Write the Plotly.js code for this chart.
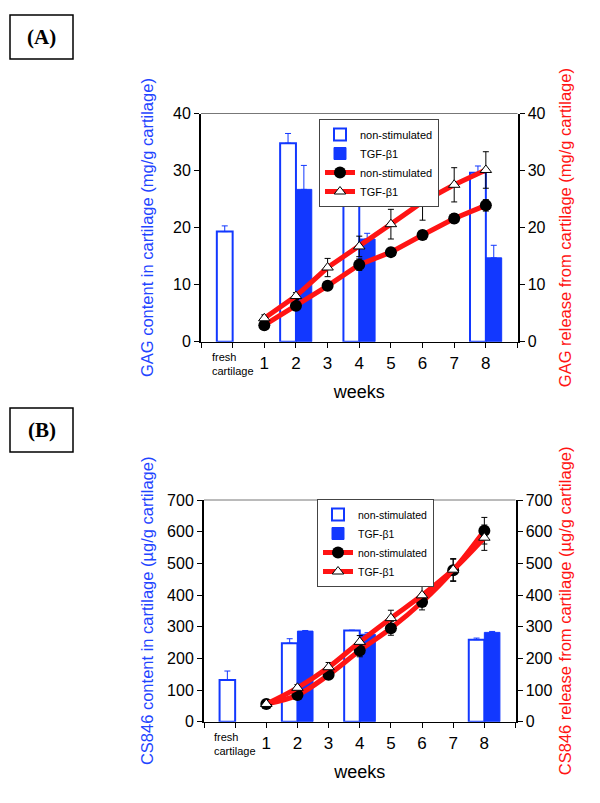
<!DOCTYPE html>
<html>
<head>
<meta charset="utf-8">
<title>GAG and CS846</title>
<script src="https://cdn.plot.ly/plotly-3.0.1.min.js"></script>
<style>
  body { margin: 0; background: #fff; }
  #chart { width: 600px; height: 803px; }
</style>
</head>
<body>
<div id="chart"></div>
<script>
// weeks in culture, x = 0 is the fresh cartilage column
const weeks = [1, 2, 3, 4, 5, 6, 7, 8];
const nonBarX = [0, 2, 4, 8];
const tgfBarX = [2, 4, 8];
const tickVals = [-1, 0, 1, 2, 3, 4, 5, 6, 7, 8, 9];
const tickText = ['', '', '1', '2', '3', '4', '5', '6', '7', '8', ''];

// (A) GAG
const gagContentNon = [19.3, 34.8, 23.8, 29.6];
const gagContentNonErr = [1.0, 1.7, 2.4, 1.2];
const gagContentTgf = [26.7, 18.0, 14.7];
const gagContentTgfErr = [4.2, 1.0, 2.2];
const gagReleaseNon = [2.9, 6.3, 9.8, 13.5, 15.7, 18.7, 21.6, 23.9];
const gagReleaseNonErr = [0.4, 0.5, 0.6, 1.0, 0.6, 0.6, 0.8, 1.0];
const gagReleaseTgf = [4.1, 8.0, 13.0, 16.7, 20.6, 24.5, 27.5, 30.1];
const gagReleaseTgfErr = [0.6, 0.6, 1.6, 1.8, 2.6, 3.2, 3.0, 3.2];

// (B) CS846
const csContentNon = [132, 248, 288, 259];
const csContentNonErr = [28, 14, 1, 5];
const csContentTgf = [286, 276, 282];
const csContentTgfErr = [2, 5, 3];
const csReleaseNon = [56, 84, 148, 225, 295, 378, 478, 603];
const csReleaseNonErr = [5, 8, 12, 20, 22, 25, 35, 42];
const csReleaseTgf = [56, 107, 172, 252, 327, 399, 480, 581];
const csReleaseTgfErr = [5, 10, 15, 20, 25, 30, 35, 40];

const BLUE = '#1238ff';
const TXTBLUE = '#1f45ff';
const RED = '#ff1414';
const FONT = 'Liberation Sans, Arial, sans-serif';

function barPair(xa, ya, leg, non, nonErr, tgf, tgfErr) {
  return [
    {
      type: 'bar', x: nonBarX, y: non, xaxis: xa, yaxis: ya, legend: leg,
      name: 'non-stimulated', width: 0.5, offset: -0.5,
      marker: {color: '#fff', line: {color: BLUE, width: 2}},
      error_y: {type: 'data', symmetric: false, array: nonErr, arrayminus: nonErr.map(() => 0),
                color: BLUE, thickness: 1, width: 3}
    },
    {
      type: 'bar', x: tgfBarX, y: tgf, xaxis: xa, yaxis: ya, legend: leg,
      name: 'TGF-β1', width: 0.5, offset: 0,
      marker: {color: BLUE, line: {color: BLUE, width: 1}},
      error_y: {type: 'data', symmetric: false, array: tgfErr, arrayminus: tgfErr.map(() => 0),
                color: BLUE, thickness: 1, width: 3}
    }
  ];
}

function linePair(xa, ya, leg, shape, non, nonErr, tgf, tgfErr) {
  return [
    {
      type: 'scatter', mode: 'lines+markers', x: weeks, y: non, xaxis: xa, yaxis: ya, legend: leg,
      name: 'non-stimulated',
      line: {color: RED, width: 5, shape: shape},
      marker: {symbol: 'circle', size: 12, color: '#000'},
      error_y: {type: 'data', array: nonErr, color: '#000', thickness: 1, width: 3}
    },
    {
      type: 'scatter', mode: 'lines+markers', x: weeks, y: tgf, xaxis: xa, yaxis: ya, legend: leg,
      name: 'TGF-β1',
      line: {color: RED, width: 5, shape: shape},
      marker: {symbol: 'triangle-up', size: 10, color: '#fff', line: {color: '#000', width: 1}},
      error_y: {type: 'data', array: tgfErr, color: '#000', thickness: 1, width: 3}
    }
  ];
}

const data = [].concat(
  barPair('x', 'y', 'legend', gagContentNon, gagContentNonErr, gagContentTgf, gagContentTgfErr),
  linePair('x', 'y2', 'legend', 'linear', gagReleaseNon, gagReleaseNonErr, gagReleaseTgf, gagReleaseTgfErr),
  barPair('x2', 'y3', 'legend2', csContentNon, csContentNonErr, csContentTgf, csContentTgfErr),
  linePair('x2', 'y4', 'legend2', 'spline', csReleaseNon, csReleaseNonErr, csReleaseTgf, csReleaseTgfErr)
);

const W = 600, H = 803;
const px = v => v / W;
const py = v => 1 - v / H;

function xAxis(domain, anchor) {
  return {
    domain: domain, anchor: anchor, range: [-1, 9],
    tickmode: 'array', tickvals: tickVals, ticktext: tickText,
    ticks: 'outside', ticklen: 5, tickcolor: '#000',
    showline: true, linecolor: '#000', linewidth: 1.5,
    showgrid: false, zeroline: false,
    tickfont: {family: FONT, size: 17, color: '#000'},
    title: {text: 'weeks', font: {family: FONT, size: 18, color: '#000'}, standoff: 14}
  };
}

function yAxis(domain, anchor, range, dtick, title, color, side, standoff, overlay) {
  const ax = {
    domain: domain, anchor: anchor, range: range, dtick: dtick,
    ticks: 'outside', ticklen: 5, tickcolor: '#000',
    showline: true, linecolor: '#000', linewidth: 2,
    showgrid: false, zeroline: false,
    tickfont: {family: FONT, size: 16, color: '#000'},
    title: {text: title, font: {family: FONT, size: 16.5, color: color}, standoff: standoff},
    side: side
  };
  if (overlay) ax.overlaying = overlay;
  return ax;
}

const domAx = [px(201), px(517.5)];
const domAy = [py(341.7), py(113.5)];
const domBx = [px(204), px(515.5)];
const domBy = [py(721.7), py(500)];

const legendStyle = {
  bgcolor: '#fff', bordercolor: '#444', borderwidth: 1,
  font: {family: FONT, size: 11, color: '#000'},
  itemwidth: 30, tracegroupgap: 0,
  xanchor: 'left', yanchor: 'top'
};

const layout = {
  width: W, height: H,
  margin: {l: 0, r: 0, t: 0, b: 0},
  paper_bgcolor: '#fff', plot_bgcolor: '#fff',
  barmode: 'overlay',
  xaxis: xAxis(domAx, 'y'),
  yaxis: yAxis(domAy, 'x', [0, 40], 10, 'GAG content in cartilage (mg/g cartilage)', TXTBLUE, 'left', 15),
  yaxis2: yAxis(domAy, 'x', [0, 40], 10, 'GAG release from cartilage (mg/g cartilage)', RED, 'right', 15, 'y'),
  xaxis2: xAxis(domBx, 'y3'),
  yaxis3: yAxis(domBy, 'x2', [0, 700], 100, 'CS846 content in cartilage (µg/g cartilage)', TXTBLUE, 'left', 9),
  yaxis4: yAxis(domBy, 'x2', [0, 700], 100, 'CS846 release from cartilage (µg/g cartilage)', RED, 'right', 8, 'y3'),
  legend: Object.assign({x: px(319), y: py(119)}, legendStyle),
  legend2: Object.assign({x: px(317), y: py(499)}, legendStyle, {font: {family: FONT, size: 10.5, color: '#000'}}),
  showlegend: true,
  shapes: [
    // top frame of each plot
    {type: 'line', xref: 'paper', yref: 'paper', x0: domAx[0], x1: domAx[1], y0: domAy[1], y1: domAy[1], line: {color: '#777', width: 1}},
    {type: 'line', xref: 'paper', yref: 'paper', x0: domBx[0], x1: domBx[1], y0: domBy[1], y1: domBy[1], line: {color: '#777', width: 1}},
    // panel label boxes
    {type: 'rect', xref: 'paper', yref: 'paper', x0: px(10), x1: px(73), y0: py(59), y1: py(15), line: {color: '#000', width: 1.5}},
    {type: 'rect', xref: 'paper', yref: 'paper', x0: px(10), x1: px(73), y0: py(452), y1: py(408), line: {color: '#000', width: 1.5}}
  ],
  annotations: [
    {xref: 'paper', yref: 'paper', x: px(41.5), y: py(37), xanchor: 'center', yanchor: 'middle',
     text: '<b>(A)</b>', showarrow: false,
     font: {family: 'Liberation Serif, Times New Roman, serif', size: 21, color: '#000'}},
    {xref: 'paper', yref: 'paper', x: px(41.5), y: py(430), xanchor: 'center', yanchor: 'middle',
     text: '<b>(B)</b>', showarrow: false,
     font: {family: 'Liberation Serif, Times New Roman, serif', size: 21, color: '#000'}},
    {xref: 'x', yref: 'paper', x: 0, y: py(349), xanchor: 'center', yanchor: 'top', text: 'fresh<br>cartilage', showarrow: false,
     align: 'left', font: {family: FONT, size: 11, color: '#000'}},
    {xref: 'x2', yref: 'paper', x: 0, y: py(729), xanchor: 'center', yanchor: 'top', text: 'fresh<br>cartilage', showarrow: false,
     align: 'left', font: {family: FONT, size: 11, color: '#000'}}
  ]
};

Plotly.newPlot('chart', data, layout, {displayModeBar: false, staticPlot: true});
</script>
</body>
</html>
